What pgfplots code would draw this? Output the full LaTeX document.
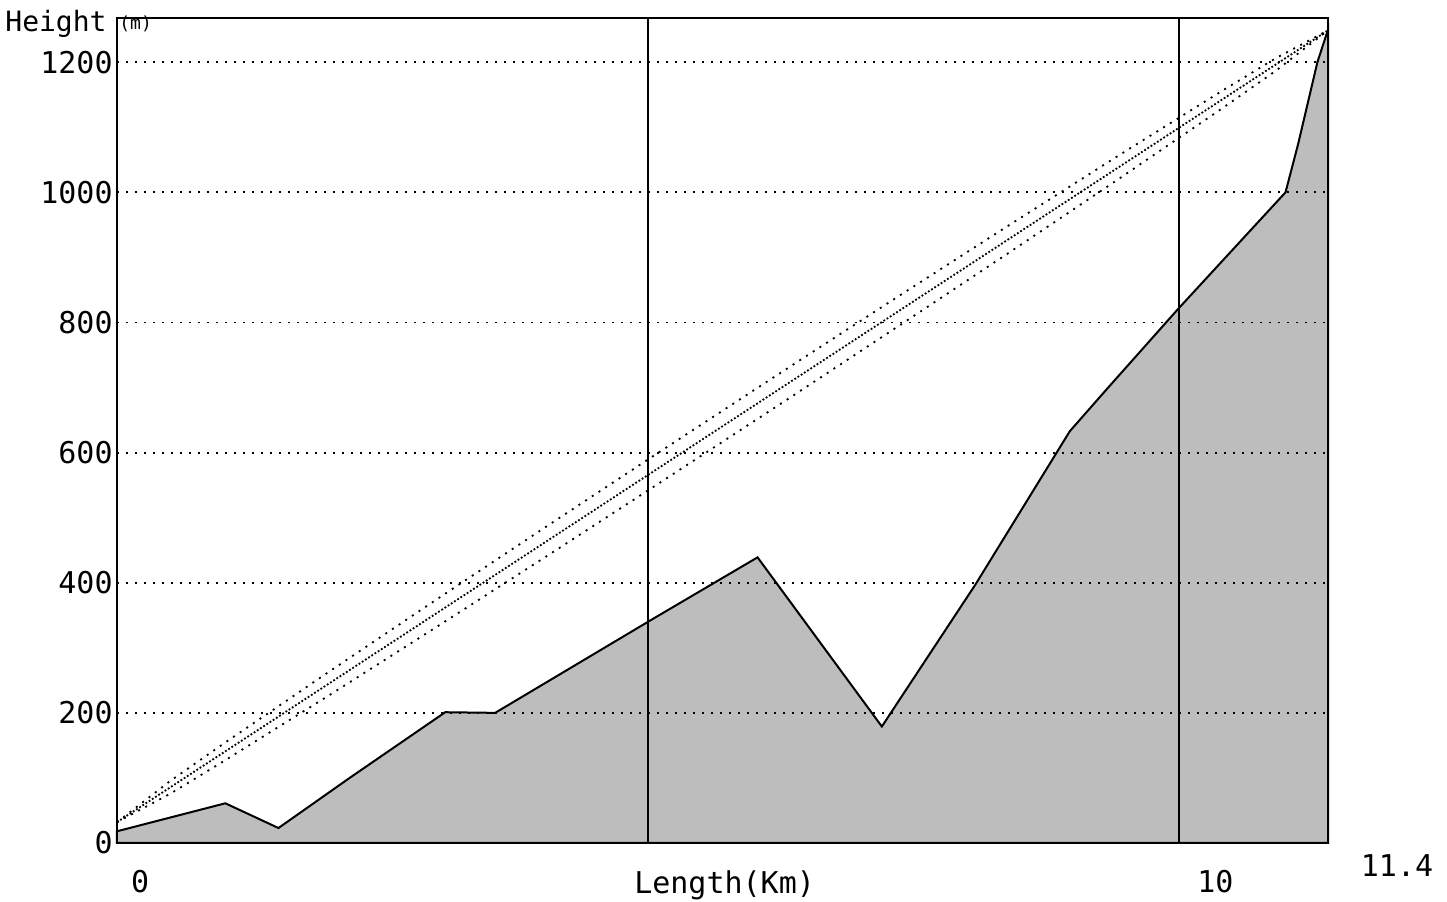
\documentclass[border=0pt]{standalone}
\usepackage{fontspec}
\setmainfont{DejaVu Sans Mono}
\usepackage{pgfplots}
\pgfplotsset{compat=1.18}
\usetikzlibrary{calc}

\begin{document}
\begin{tikzpicture}[font=\fontsize{15}{18}\selectfont]
\begin{axis}[
  name=a,
  scale only axis,
  width=605.5pt, height=412.5pt,
  xmin=0, xmax=11.4, ymin=0, ymax=1268,
  axis line style={line width=1.2pt},
  xtick={5,10}, xticklabels={},
  ytick={0,200,...,1200},
  major tick length=0pt,
  xmajorgrids, ymajorgrids,
  x grid style={black, line width=0.9pt},
  y grid style={black, line width=0.9pt, dash pattern=on 1pt off 3.5pt},
  yticklabel style={/pgf/number format/1000 sep={},
    /pgf/number format/assume math mode=true, inner sep=2pt,
    font=\fontsize{15}{18}\selectfont},
  clip=false,
  axis on top,
]
% terrain profile
\addplot[draw=black, line width=1pt, fill=black!26] coordinates {
  (0,18) (1.02,61) (1.52,23) (2.19,100) (3.09,201) (3.56,200)
  (5.03,343) (6.03,439) (7.20,179) (8.08,397) (8.97,633) (9.32,698)
  (9.99,821) (11.0,1000) (11.12,1075) (11.3,1200) (11.4,1250)
} \closedcycle;
% line of sight
\addplot[black, line width=0.9pt, densely dotted] coordinates {(0,32) (11.4,1249)};
% upper and lower clearance
\addplot[black, line width=0.9pt, dash pattern=on 1pt off 3pt] coordinates {
  (0,32) (0.5,95.2) (1,152.3) (2,263.7) (3,373.4) (4,481.9) (5,589.6)
  (5.7,664.4) (6.4,739) (7.4,844.9) (8.4,949.8) (9.4,1053.7) (10.4,1155.7)
  (10.9,1205.4) (11.4,1249)
};
\addplot[black, line width=0.9pt, dash pattern=on 1pt off 3pt] coordinates {
  (0,32) (0.5,75.6) (1,125.3) (2,227.3) (3,331.2) (4,436.1) (5,542)
  (5.7,616.6) (6.4,691.4) (7.4,799.1) (8.4,907.6) (9.4,1017.3) (10.4,1128.7)
  (10.9,1185.8) (11.4,1249)
};
\node at (axis cs:0.217,0) [yshift=-19.5pt] {0};
\node at (axis cs:10.34,0) [yshift=-19.5pt] {10};
\node at (axis cs:5.72,0) [yshift=-21pt] {Length(Km)};
\node at (axis cs:12.05,0) [yshift=-11.5pt] {11.4};
\end{axis}
\node[anchor=west, inner sep=0pt, font=\fontsize{14}{16}\selectfont]
  at ($(a.north west)+(-56pt,-3pt)$) {Height};
\node[anchor=west, inner sep=0pt, font=\fontsize{9}{10}\selectfont]
  at ($(a.north west)+(1pt,-3pt)$) {(m)};
\pgfresetboundingbox
\path ($(a.south west)+(-58.5pt,-29.5pt)$) rectangle ($(a.north east)+(59.5pt,9pt)$);
\end{tikzpicture}
\end{document}
